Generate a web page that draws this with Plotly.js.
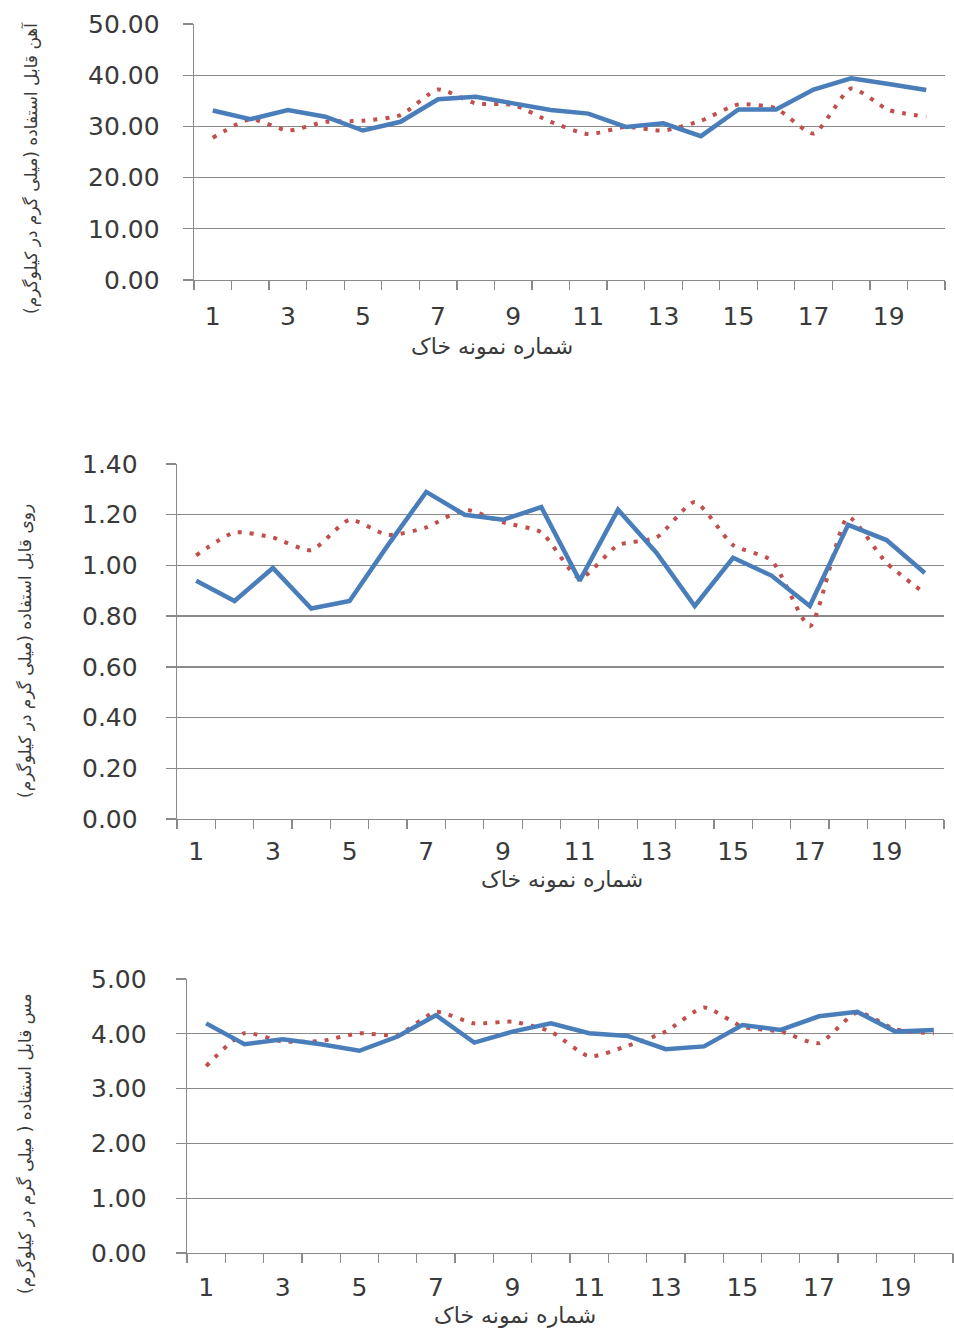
<!DOCTYPE html>
<html>
<head>
<meta charset="utf-8">
<script src="https://cdn.plot.ly/plotly-3.0.1.min.js"></script>
<style>
  html, body { margin: 0; padding: 0; background: #ffffff; }
  #chart { width: 954px; height: 1328px; }
</style>
</head>
<body>
<div id="chart"></div>
<script>
// Soil sample numbers (x categories) and the odd-numbered tick labels
const sampleNumbers = [1, 2, 3, 4, 5, 6, 7, 8, 9, 10, 11, 12, 13, 14, 15, 16, 17, 18, 19, 20];
const tickNumbers = [1, 3, 5, 7, 9, 11, 13, 15, 17, 19];
const tickLabels = ['1', '3', '5', '7', '9', '11', '13', '15', '17', '19'];

// Available iron (mg/kg)
const feSolid = [33.1, 31.4, 33.2, 31.9, 29.2, 30.9, 35.3, 35.8, 34.5, 33.2,
                 32.5, 29.9, 30.6, 28.1, 33.3, 33.3, 37.2, 39.4, 38.3, 37.1];
const feDotted = [27.8, 31.4, 29.2, 30.9, 31.1, 32.2, 37.2, 34.5, 34.2, 30.9,
                  28.5, 29.9, 29.2, 31.1, 34.3, 33.5, 28.6, 37.4, 33.2, 31.9];

// Available zinc (mg/kg)
const znSolid = [0.94, 0.86, 0.99, 0.83, 0.86, 1.08, 1.29, 1.20, 1.18, 1.23,
                 0.94, 1.22, 1.05, 0.84, 1.03, 0.96, 0.84, 1.16, 1.10, 0.97];
const znDotted = [1.04, 1.13, 1.11, 1.06, 1.18, 1.12, 1.15, 1.22, 1.17, 1.13,
                  0.95, 1.08, 1.11, 1.25, 1.08, 1.02, 0.76, 1.19, 1.01, 0.89];

// Available copper (mg/kg)
const cuSolid = [4.19, 3.81, 3.90, 3.81, 3.69, 3.95, 4.34, 3.84, 4.04, 4.19,
                 4.01, 3.96, 3.72, 3.77, 4.16, 4.07, 4.32, 4.40, 4.04, 4.07];
const cuDotted = [3.41, 4.01, 3.86, 3.87, 4.01, 3.98, 4.40, 4.19, 4.22, 4.04,
                  3.59, 3.78, 4.04, 4.48, 4.13, 4.04, 3.83, 4.39, 4.08, 4.01];

// Axis and label text
const xTitle = 'شماره نمونه خاک';
const feTitle = 'آهن قابل استفاده (میلی گرم در کیلوگرم)';
const znTitle = 'روی قابل استفاده (میلی گرم در کیلوگرم)';
const cuTitle = 'مس قابل استفاده ( میلی گرم در کیلوگرم)';

const W = 954, H = 1328;
const BLUE = '#4a7ebb';
const RED = '#c0504d';
const GRID = '#8a8a8a';
const TEXT = '#3a3a3a';
const TICKFONT = { family: 'DejaVu Sans, Verdana, sans-serif', size: 25, color: TEXT };
const ARFONT = 'DejaVu Sans, Noto Sans, sans-serif';

// Pixel frames of the three plot areas: left, right, top, bottom
const frames = [
  { l: 194, r: 945, t: 24, b: 280 },
  { l: 177, r: 944, t: 464, b: 819 },
  { l: 187, r: 953, t: 979, b: 1253 }
];

function solid(y, xa, ya) {
  return { x: sampleNumbers, y: y, xaxis: xa, yaxis: ya, type: 'scatter', mode: 'lines',
           line: { color: BLUE, width: 4.5 }, showlegend: false, hoverinfo: 'x+y' };
}
function dotted(y, xa, ya) {
  return { x: sampleNumbers, y: y, xaxis: xa, yaxis: ya, type: 'scatter', mode: 'lines',
           line: { color: RED, width: 4, dash: '4px,8px', shape: 'spline', smoothing: 0.6 },
           showlegend: false, hoverinfo: 'x+y' };
}

const data = [
  dotted(feDotted, 'x', 'y'), solid(feSolid, 'x', 'y'),
  dotted(znDotted, 'x2', 'y2'), solid(znSolid, 'x2', 'y2'),
  dotted(cuDotted, 'x3', 'y3'), solid(cuSolid, 'x3', 'y3')
];

function xAxis(f, anchor, standoff) {
  return {
    domain: [f.l / W, f.r / W], anchor: anchor,
    range: [0.5, 20.5], fixedrange: true,
    tickmode: 'array', tickvals: tickNumbers, ticktext: tickLabels,
    ticks: '', tickfont: TICKFONT, ticklabelstandoff: standoff,
    showgrid: false, zeroline: false,
    showline: true, linecolor: GRID, linewidth: 1.3,
    minor: { tick0: 0.5, dtick: 1, ticks: 'outside', ticklen: 9, tickcolor: GRID, tickwidth: 1.3, showgrid: false }
  };
}
function yAxis(f, anchor, range, dtick, standoff) {
  return {
    domain: [1 - f.b / H, 1 - f.t / H], anchor: anchor,
    range: range, dtick: dtick, tick0: 0, tickformat: '.2f', fixedrange: true,
    ticks: 'outside', ticklen: 10, tickcolor: GRID, tickwidth: 1.3,
    tickfont: TICKFONT, ticklabelstandoff: standoff,
    showgrid: true, gridcolor: GRID, gridwidth: 1.3,
    zeroline: false, showline: true, linecolor: GRID, linewidth: 1.3
  };
}

function vTitle(text, x, y) {
  return { text: text, xref: 'paper', yref: 'paper', x: x / W, y: 1 - y / H,
           xanchor: 'center', yanchor: 'middle', textangle: -90, showarrow: false,
           font: { family: ARFONT, size: 17, color: TEXT } };
}
function hTitle(text, x, y) {
  return { text: text, xref: 'paper', yref: 'paper', x: x / W, y: 1 - y / H,
           xanchor: 'center', yanchor: 'middle', showarrow: false,
           font: { family: ARFONT, size: 22, color: TEXT } };
}

const layout = {
  width: W, height: H,
  margin: { l: 0, r: 0, t: 0, b: 0, pad: 0 },
  paper_bgcolor: '#ffffff', plot_bgcolor: '#ffffff',
  showlegend: false,
  xaxis: xAxis(frames[0], 'y', 14),
  yaxis: yAxis(frames[0], 'x', [0, 50], 10, 18),
  xaxis2: xAxis(frames[1], 'y2', 10),
  yaxis2: yAxis(frames[1], 'x2', [0, 1.4], 0.2, 23),
  xaxis3: xAxis(frames[2], 'y3', 12),
  yaxis3: yAxis(frames[2], 'x3', [0, 5], 1, 24),
  annotations: [
    vTitle(feTitle, 30, 168),
    vTitle(znTitle, 25, 651),
    vTitle(cuTitle, 25, 1144),
    hTitle(xTitle, 492, 346),
    hTitle(xTitle, 562, 879),
    hTitle(xTitle, 515, 1315)
  ]
};

Plotly.newPlot('chart', data, layout, { displayModeBar: false, staticPlot: true });
</script>
</body>
</html>
